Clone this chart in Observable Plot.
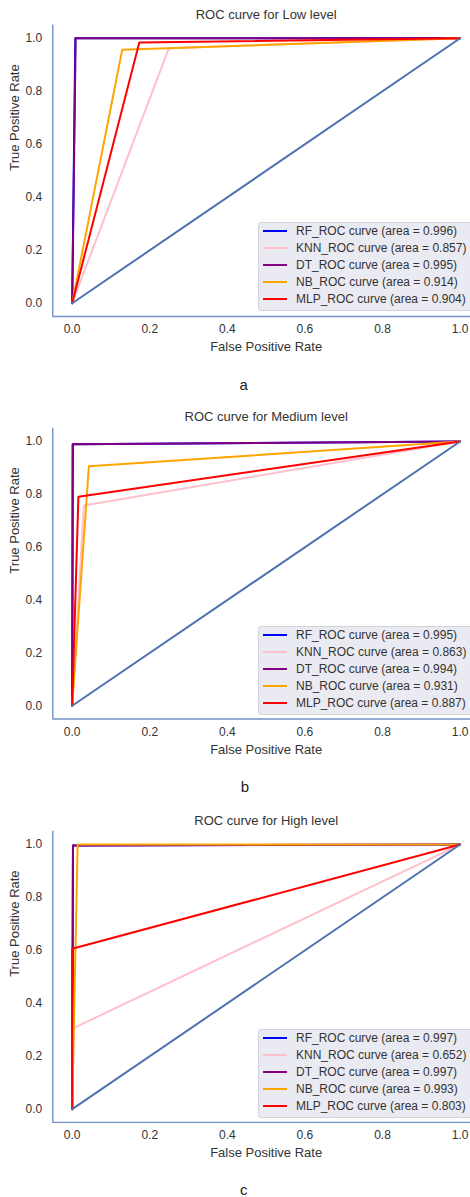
<!DOCTYPE html>
<html>
<head>
<meta charset="utf-8">
<script src="https://cdn.jsdelivr.net/npm/d3@7"></script>
<script src="https://cdn.jsdelivr.net/npm/@observablehq/plot@0.6"></script>
<style>
  html, body { margin: 0; padding: 0; background: #fff; }
  body { width: 470px; overflow: hidden; font-family: "Liberation Sans", Arial, sans-serif; color: #333; }
  .panel { position: relative; width: 470px; overflow: hidden; }
  .panel svg { display: block; max-width: none !important; }
  .legend { position: absolute; left: 258px; width: 224px; height: 89px; background: #eaeaf2;
            border: 1px solid #d2d2da; border-radius: 3px; box-sizing: border-box; }
  .row { position: absolute; left: 0; height: 17px; width: 100%; }
  .swatch { position: absolute; left: 4px; top: 7px; width: 24px; height: 2.5px; }
  .label { position: absolute; left: 37px; top: 0; line-height: 17px; font-size: 12px; color: #333; white-space: nowrap; }
</style>
</head>
<body>
<div id="root"></div>
<script>
// ---------- data ----------
const models = ["RF", "KNN", "DT", "NB", "MLP"];
const modelColors = ["blue", "pink", "purple", "orange", "red"];

const lowFpr = [[0, 0.008, 1], [0, 0.249, 1], [0, 0.009, 1], [0, 0.129, 1], [0, 0.173, 1]];
const lowTpr = [[0, 1.0, 1], [0, 0.962, 1], [0, 1.0, 1], [0, 0.957, 1], [0, 0.984, 1]];
const lowAuc = [0.996, 0.857, 0.995, 0.914, 0.904];

const medFpr = [[0, 0.001, 1], [0, 0.030, 1], [0, 0.002, 1], [0, 0.043, 1], [0, 0.016, 1]];
const medTpr = [[0, 0.990, 1], [0, 0.758, 1], [0, 0.990, 1], [0, 0.906, 1], [0, 0.791, 1]];
const medAuc = [0.995, 0.863, 0.994, 0.931, 0.887];

const highFpr = [[0, 0.002, 1], [0, 0.0, 1], [0, 0.002, 1], [0, 0.014, 1], [0, 0.0, 1]];
const highTpr = [[0, 0.996, 1], [0, 0.304, 1], [0, 0.996, 1], [0, 1.0, 1], [0, 0.606, 1]];
const highAuc = [0.997, 0.652, 0.997, 0.993, 0.803];

const chanceFpr = [0, 1];
const chanceTpr = [0, 1];

const tickValues = [0, 0.2, 0.4, 0.6, 0.8, 1.0];
const axisDomain = [-0.05, 1.05];
const titles = ["ROC curve for Low level", "ROC curve for Medium level", "ROC curve for High level"];
const captions = ["a", "b", "c"];
const xLabel = "False Positive Rate";
const yLabel = "True Positive Rate";

// ---------- layout ----------
const layouts = [
  {h: 400, mt: 24.5, mb: 84,   titleDy: -10.5, capDx: -22.6, capDy: 69,   legTop: 221.7},
  {h: 400, mt: 27.8, mb: 81.5, titleDy: -11,   capDx: -21.3, capDy: 68.2, legTop: 225.7},
  {h: 397, mt: 30.8, mb: 75.1, titleDy: -10.8, capDx: -22.3, capDy: 68,   legTop: 228.7}
];
const series = [[lowFpr, lowTpr, lowAuc], [medFpr, medTpr, medAuc], [highFpr, highTpr, highAuc]];
const spineColor = "#7092c8";
const fmt = d3.format(".1f");

const root = document.getElementById("root");

series.forEach(([fpr, tpr, auc], p) => {
  const L = layouts[p];
  const curveMarks = models.map((m, k) =>
    Plot.line(fpr[k].map((f, j) => ({f, t: tpr[k][j]})),
      {x: "f", y: "t", stroke: modelColors[k], strokeWidth: 2})
  );
  const chart = Plot.plot({
    width: 479,
    height: L.h,
    marginLeft: 52.3,
    marginRight: 0,
    marginTop: L.mt,
    marginBottom: L.mb,
    x: {domain: axisDomain},
    y: {domain: axisDomain},
    style: {fontFamily: '"Liberation Sans", Arial, sans-serif', fontSize: "12px", color: "#333", background: "white", maxWidth: "none"},
    marks: [
      Plot.axisX({ticks: tickValues, tickSize: 0, tickPadding: 8, tickFormat: fmt, label: null, fontSize: 12}),
      Plot.axisY({ticks: tickValues, tickSize: 0, tickPadding: 10.5, tickFormat: fmt, label: null, fontSize: 12}),
      ...curveMarks,
      Plot.line(chanceFpr.map((f, j) => ({f, t: chanceTpr[j]})), {x: "f", y: "t", stroke: "#4c72b0", strokeWidth: 2}),
      Plot.ruleX([axisDomain[0]], {stroke: spineColor, strokeWidth: 1.4}),
      Plot.ruleY([axisDomain[0]], {stroke: spineColor, strokeWidth: 1.4}),
      Plot.text([titles[p]], {frameAnchor: "top", dy: L.titleDy, fontSize: 13, lineAnchor: "middle"}),
      Plot.text([xLabel], {frameAnchor: "bottom", dy: 30.7, fontSize: 13, lineAnchor: "middle"}),
      Plot.text([yLabel], {frameAnchor: "left", dx: -38.3, rotate: -90, fontSize: 13, lineAnchor: "middle"}),
      Plot.text([captions[p]], {frameAnchor: "bottom", dx: L.capDx, dy: L.capDy, fontSize: 15, lineAnchor: "middle", fill: "#222"})
    ]
  });
  const div = document.createElement("div");
  div.className = "panel";
  div.style.height = L.h + "px";
  div.appendChild(chart);

  const leg = document.createElement("div");
  leg.className = "legend";
  leg.style.top = L.legTop + "px";
  models.forEach((m, k) => {
    const row = document.createElement("div");
    row.className = "row";
    row.style.top = (0 + 17 * k) + "px";
    const sw = document.createElement("div");
    sw.className = "swatch";
    sw.style.background = modelColors[k];
    const lab = document.createElement("div");
    lab.className = "label";
    lab.textContent = `${m}_ROC curve (area = ${auc[k].toFixed(3)})`;
    row.appendChild(sw);
    row.appendChild(lab);
    leg.appendChild(row);
  });
  div.appendChild(leg);
  root.appendChild(div);
});
</script>
</body>
</html>
